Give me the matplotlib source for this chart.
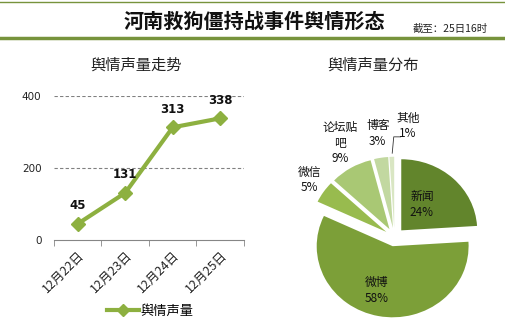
import numpy as np
import matplotlib

matplotlib.use("Agg")
import matplotlib.pyplot as plt
from matplotlib.lines import Line2D

plt.rcParams["font.family"] = ["Noto Sans CJK SC", "DejaVu Sans"]

# data
dates = ["12月22日", "12月23日", "12月24日", "12月25日"]
volume = [45, 131, 313, 338]
y_ticks = [0, 200, 400]

sources = ["新闻", "微博", "微信", "论坛贴\n吧", "博客", "其他"]
shares = [24, 58, 5, 9, 3, 1]

title = "河南救狗僵持战事件舆情形态"
stamp = "截至：25日16时"

green = "#8db040"
olive = "#77933c"
pie_colors = ["#62852c", "#7c9f38", "#98bb4e", "#a9c874", "#c2d8a0", "#d9e6c3"]

fig = plt.figure(figsize=(5.06, 3.31), dpi=100)
W, H = 506.0, 331.0

# header
fig.add_artist(Line2D([0, 1], [1 - 1.5 / H] * 2, color=olive, lw=1.0))
fig.add_artist(Line2D([0, 1], [1 - 38 / H] * 2, color=olive, lw=2.5))
fig.text(254 / W, 1 - 21 / H, title, ha="center", va="center",
         fontsize=14.5, fontweight="bold", color="#111111")
fig.text(450 / W, 1 - 29 / H, stamp, ha="center", va="center",
         fontsize=7.5, color="#222222")
fig.text(136 / W, 1 - 65 / H, "舆情声量走势", ha="center", va="center",
         fontsize=11, color="#222222")
fig.text(373 / W, 1 - 65 / H, "舆情声量分布", ha="center", va="center",
         fontsize=11, color="#222222")

# line chart
ax = fig.add_axes([54 / W, (H - 240) / H, 190 / W, 144 / H])
x = np.arange(len(dates))
ax.plot(x, volume, color=green, lw=3, marker="D", ms=7, clip_on=False,
        zorder=3)
for xi, v in zip(x, volume):
    ax.annotate(str(v), (xi, v), xytext=(0, 13), textcoords="offset points",
                ha="center", va="center", fontsize=8.5, fontweight="bold",
                family="DejaVu Sans", color="#111111")
ax.set_xlim(-0.5, len(dates) - 0.5)
ax.set_ylim(0, 400)
ax.set_yticks(y_ticks)
ax.set_yticklabels([str(t) for t in y_ticks], family="DejaVu Sans",
                   fontsize=7.5, color="#222222")
for t in y_ticks[1:]:
    ax.axhline(t, color="#808080", lw=0.8, ls=(0, (3, 2)), zorder=1)
ax.set_xticks(x)
ax.set_xticklabels(dates, rotation=45, ha="right", va="top",
                   rotation_mode="anchor", fontsize=9, color="#222222")
ax.set_xticks(np.arange(-0.5, len(dates)), minor=True)
ax.tick_params(axis="x", which="major", length=0, pad=6)
ax.tick_params(axis="x", which="minor", length=4, color="#868686")
ax.tick_params(axis="y", length=0, pad=9)
for s in ["top", "right", "left"]:
    ax.spines[s].set_visible(False)
ax.spines["bottom"].set_color("#868686")

handle = Line2D([], [], color=green, lw=3, marker="D", ms=6)
fig.legend([handle], ["舆情声量"], loc="center",
           bbox_to_anchor=(150 / W, 1 - 311 / H), frameon=False,
           fontsize=9.5, handlelength=2.4, handletextpad=0.1)

# pie chart
pax = fig.add_axes([273 / W, 5 / H, 243 / W, 224 / H])
wedges, _ = pax.pie(shares, colors=pie_colors, startangle=90,
                    counterclock=False, explode=[0.13] * len(shares),
                    wedgeprops=dict(linewidth=0))
pax.set_xlim(-1.6, 1.6)
pax.set_ylim(-1.25, 1.9)
pax.set_aspect("auto")
pax.axis("off")

label_pos = [(0.36, 0.46), (-0.24, -0.75), (-1.12, 0.80),
             (-0.72, 1.32), (-0.22, 1.46), (0.18, 1.56)]
for name, pct, (lx, ly) in zip(sources, shares, label_pos):
    pax.text(lx, ly, f"{name}\n{pct}%", ha="center", va="center",
             fontsize=8.5, color="#111111", linespacing=1.25, clip_on=False)
pax.plot([-0.03, -0.01, 0.08], [1.18, 1.41, 1.41], color="#333333",
         lw=0.6, clip_on=False)

fig.savefig("out.png", dpi=100)
